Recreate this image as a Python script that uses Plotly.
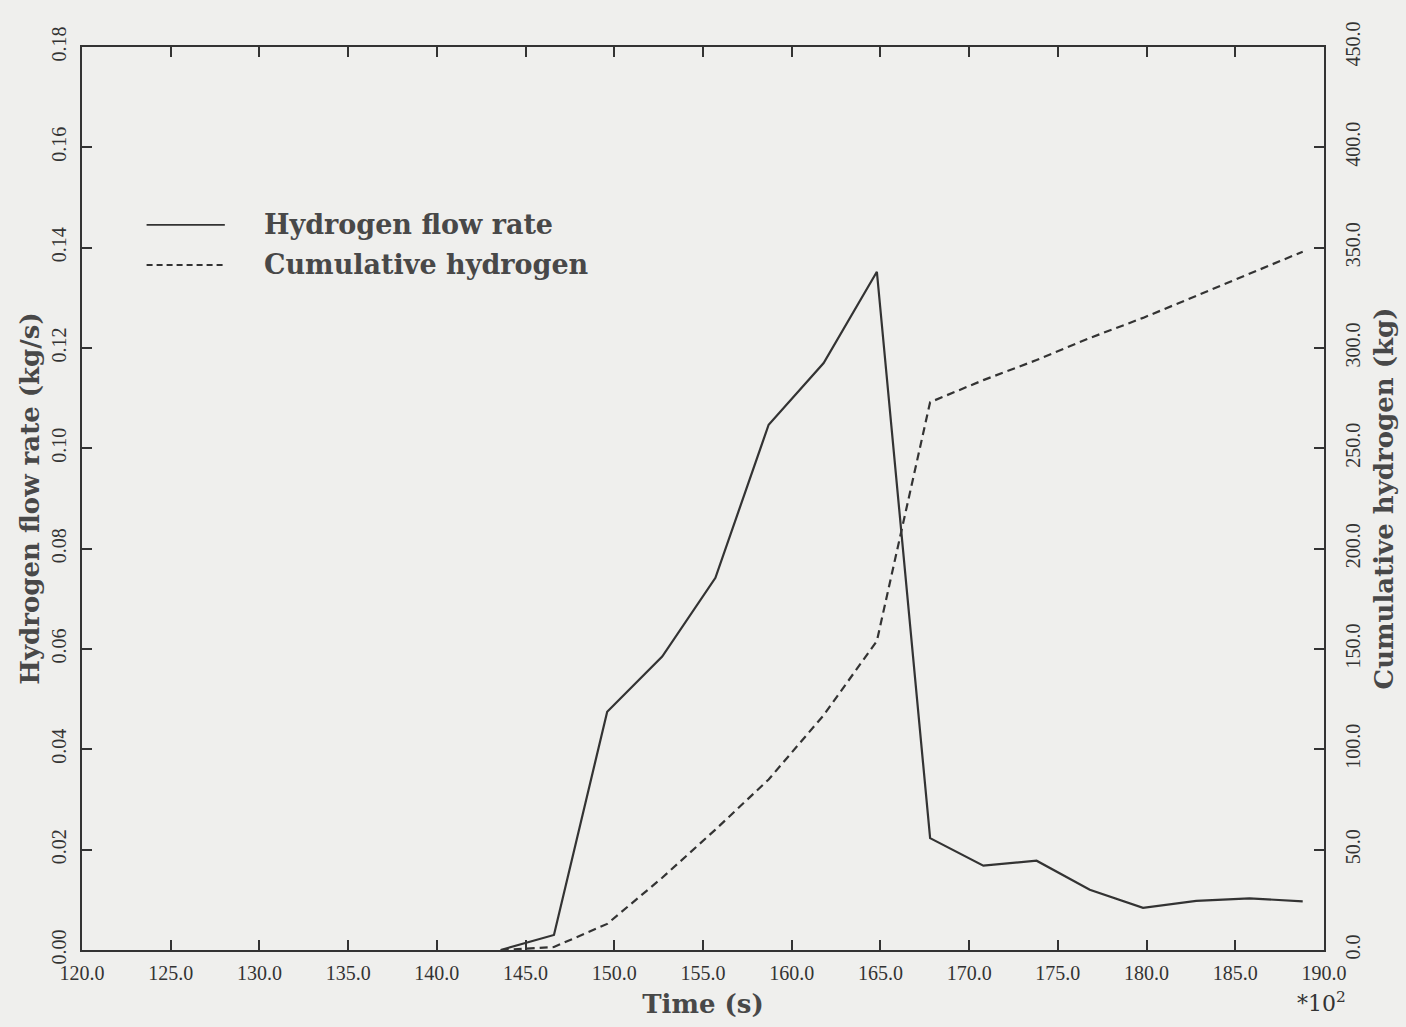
import plotly.graph_objects as go

# Time axis values (in units of 10^2 s)
time = [143.6, 146.6, 149.6, 152.7, 155.7, 158.7, 161.8, 164.8,
        167.8, 170.8, 173.8, 176.8, 179.8, 182.8, 185.8, 188.8]

# Hydrogen flow rate (kg/s)
flow_rate = [0.0, 0.003, 0.0475, 0.0585, 0.0742, 0.1047, 0.117, 0.1352,
             0.0223, 0.0168, 0.0178, 0.0120, 0.0084, 0.0098, 0.0103, 0.0097]

# Cumulative hydrogen (kg)
cumulative = [0.0, 1.5, 13.0, 36.0, 60.0, 85.0, 117.0, 154.0,
              273.0, 284.0, 294.0, 305.0, 315.0, 326.0, 337.0, 348.0]

x_ticks = [120.0 + 5 * i for i in range(15)]
left_ticks = [0.02 * i for i in range(10)]
right_ticks = [50.0 * i for i in range(10)]

legend_labels = ["Hydrogen flow rate", "Cumulative hydrogen"]

INK = "#333333"
TEXT_INK = "#484848"
BG = "#efefed"
SERIF = "DejaVu Serif"
TICKFONT = dict(family="Liberation Serif", size=20, color=INK)
TITLEFONT = dict(family=SERIF, size=26, color=TEXT_INK, weight="bold")

fig = go.Figure()

fig.add_trace(go.Scatter(
    x=time, y=flow_rate, mode="lines", name=legend_labels[0],
    line=dict(color=INK, width=2.2), yaxis="y", showlegend=False,
))
fig.add_trace(go.Scatter(
    x=time, y=cumulative, mode="lines", name=legend_labels[1],
    line=dict(color=INK, width=2.2, dash="8px,5px"), yaxis="y2", showlegend=False,
))

axis_common = dict(
    showline=True, linecolor=INK, linewidth=2, mirror=False,
    ticks="inside", ticklen=10, tickwidth=1.5, tickcolor=INK,
    showgrid=False, zeroline=False, tickfont=TICKFONT,
)

fig.update_layout(
    width=1406, height=1027,
    margin=dict(l=82, r=82, t=47, b=77),
    paper_bgcolor=BG, plot_bgcolor=BG,
    xaxis=dict(
        range=[120, 190], tickvals=x_ticks,
        ticktext=[f"{v:.1f}" for v in x_ticks], ticklabelstandoff=4,
        title=dict(text="Time (s)", font=TITLEFONT, standoff=12),
        **axis_common,
    ),
    xaxis2=dict(
        range=[120, 190], tickvals=x_ticks, overlaying="x", side="top",
        showticklabels=False, **axis_common,
    ),
    yaxis=dict(
        range=[0, 0.18], tickvals=left_ticks,
        ticktext=[f"{v:.2f}" for v in left_ticks], tickangle=-90,
        ticklabelstandoff=6,
        title=dict(text="Hydrogen flow rate (kg/s)", font=TITLEFONT, standoff=1),
        **axis_common,
    ),
    yaxis2=dict(
        range=[0, 450], tickvals=right_ticks, overlaying="y", side="right",
        ticktext=[f"{v:.1f}" for v in right_ticks], tickangle=-90,
        ticklabelstandoff=10,
        title=dict(text="Cumulative hydrogen (kg)", font=TITLEFONT, standoff=12),
        **axis_common,
    ),
    showlegend=False,
)

# Invisible trace so the top axis is drawn
fig.add_trace(go.Scatter(x=[120, 190], y=[None, None], xaxis="x2", yaxis="y",
                         showlegend=False, hoverinfo="skip"))

# Legend drawn as line samples with labels
legend_rows = [(0.803, "solid"), (0.7586, "6px,4px")]
for (ypos, dash), label in zip(legend_rows, legend_labels):
    fig.add_shape(type="line", xref="paper", yref="paper",
                  x0=0.052, x1=0.115, y0=ypos, y1=ypos,
                  line=dict(color=INK, width=1.8, dash=dash))
    fig.add_annotation(x=0.145, y=ypos, xref="paper", yref="paper",
                       text=label, showarrow=False, xanchor="left", yanchor="middle",
                       font=dict(family=SERIF, size=27, color=TEXT_INK, weight="bold"))

# Axis multiplier note
fig.add_annotation(x=0.998, y=-0.058, xref="paper", yref="paper",
                   text="*10<sup>2</sup>", showarrow=False, xanchor="center",
                   yanchor="middle", font=dict(family=SERIF, size=22, color=INK))

fig.write_html("out.html")
